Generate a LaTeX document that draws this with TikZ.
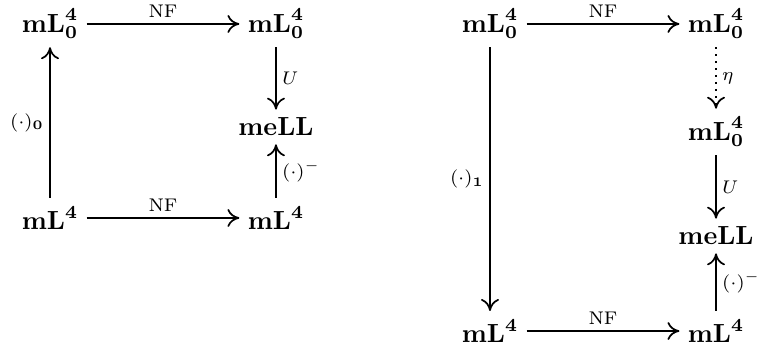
\documentclass[tikz,border=0pt]{standalone}
\usepackage{amsmath}
\usetikzlibrary{arrows.meta}

\begin{document}
\begin{tikzpicture}[
  x=0.91cm,y=0.91cm,
  obj/.style={inner sep=3pt},
  lbl/.style={font=\scriptsize,inner sep=2pt},
  arr/.style={-{To[length=1.6mm,width=2.4mm]},line width=0.65pt}
]
  \useasboundingbox (0,0) rectangle (11.2,5.187);

  % left square
  \node[obj] (ltl) at (0.737,4.834) {$\mathbf{mL}^{\mathbf 4}_{\mathbf 0}$};
  \node[obj] (ltr) at (4.067,4.834) {$\mathbf{mL}^{\mathbf 4}_{\mathbf 0}$};
  \node[obj] (lmell) at (4.067,3.316) {$\mathbf{meLL}$};
  \node[obj] (lbl) at (0.737,1.975) {$\mathbf{mL}^{\mathbf 4}$};
  \node[obj] (lbr) at (4.067,1.975) {$\mathbf{mL}^{\mathbf 4}$};

  % right rectangle
  \node[obj] (rtl) at (7.221,4.834) {$\mathbf{mL}^{\mathbf 4}_{\mathbf 0}$};
  \node[obj] (rtr) at (10.552,4.834) {$\mathbf{mL}^{\mathbf 4}_{\mathbf 0}$};
  \node[obj] (rmid) at (10.552,3.242) {$\mathbf{mL}^{\mathbf 4}_{\mathbf 0}$};
  \node[obj] (rmell) at (10.552,1.709) {$\mathbf{meLL}$};
  \node[obj] (rbl) at (7.221,0.309) {$\mathbf{mL}^{\mathbf 4}$};
  \node[obj] (rbr) at (10.552,0.309) {$\mathbf{mL}^{\mathbf 4}$};

  \path[arr]
    (ltl) edge node[lbl,above] {NF} (ltr)
    (ltr) edge node[lbl,right] {$U$} (lmell)
    (lbr) edge node[lbl,right] {$(\cdot)^-$} (lmell)
    (lbl) edge node[lbl,left] {$(\cdot)_{\mathbf 0}$} (ltl)
    (lbl) edge node[lbl,above] {NF} (lbr);

  \path[arr]
    (rtl) edge node[lbl,above] {NF} (rtr)
    (rtr) edge[dotted] node[lbl,right] {$\eta$} (rmid)
    (rmid) edge node[lbl,right] {$U$} (rmell)
    (rbr) edge node[lbl,right] {$(\cdot)^-$} (rmell)
    (rtl) edge node[lbl,left] {$(\cdot)_{\mathbf 1}$} (rbl)
    (rbl) edge node[lbl,above] {NF} (rbr);
\end{tikzpicture}
\end{document}
